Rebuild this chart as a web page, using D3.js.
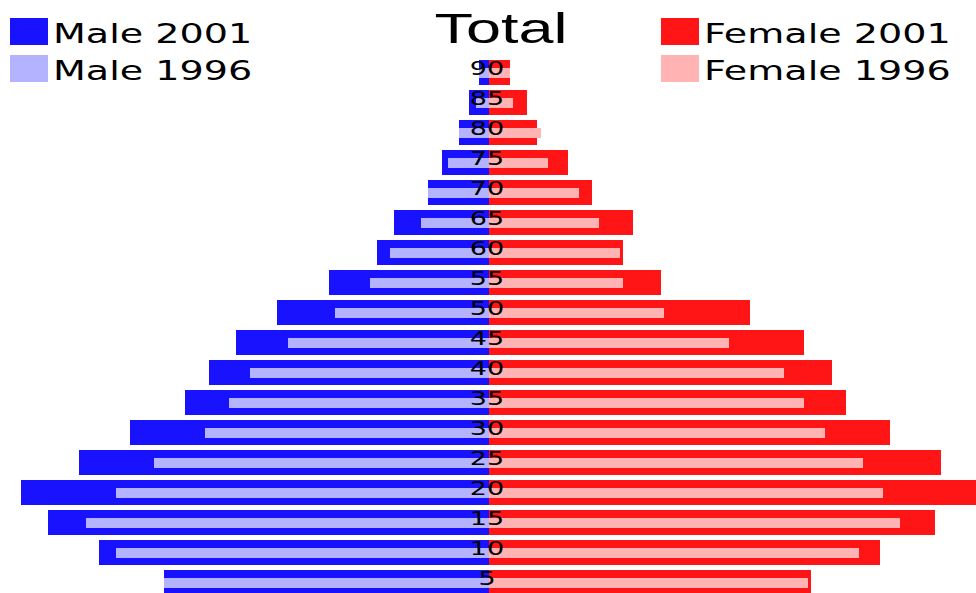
<!DOCTYPE html>
<html>
<head>
<meta charset="utf-8">
<script src="https://cdn.jsdelivr.net/npm/d3@7"></script>
<style>
  body { margin: 0; background: #fff; }
  svg { display: block; }
</style>
</head>
<body>
<svg></svg>
<script>
// Population pyramid, total, 2001 vs 1996

var ages = [5, 10, 15, 20, 25, 30, 35, 40, 45, 50, 55, 60, 65, 70, 75, 80, 85, 90];
var male2001 = [325, 390, 441, 468, 410, 359, 304, 280, 253, 212, 160, 112, 95, 61, 47, 30, 20, 10];
var male1996 = [325, 373, 403, 373, 335, 284, 260, 239, 201, 154, 119, 99, 68, 61, 41, 30, 13, 10];
var female2001 = [322, 391, 446, 487, 452, 401, 357, 343, 315, 261, 172, 134, 144, 103, 79, 48, 38, 21];
var female1996 = [319, 370, 411, 394, 374, 336, 315, 295, 240, 175, 134, 131, 110, 90, 59, 52, 24, 21];

var svgWidth = 976, svgHeight = 593, center = 489;
var stretch = 1.35;

var svg = d3.select('svg')
    .attr("width", svgWidth)
    .attr("height", svgHeight);

var xScale = d3.scaleLinear()
    .domain([0, 487])
    .range([0, 487]);

var yScale = d3.scaleBand()
    .domain(ages.slice().reverse())
    .range([60, 600])
    .padding(0);

var rows = ages.map(function (a, i) {
    return {age: a, m01: male2001[i], m96: male1996[i], f01: female2001[i], f96: female1996[i]};
});

// outer (2001) bars
svg.selectAll('rect.m01').data(rows).enter().append('rect')
    .attr('x', function (d) { return center - xScale(d.m01); })
    .attr('y', function (d) { return yScale(d.age); })
    .attr('width', function (d) { return xScale(d.m01); })
    .attr('height', 25)
    .attr('fill', '#1812ff');

svg.selectAll('rect.f01').data(rows).enter().append('rect')
    .attr('x', center)
    .attr('y', function (d) { return yScale(d.age); })
    .attr('width', function (d) { return xScale(d.f01); })
    .attr('height', 25)
    .attr('fill', '#ff1515');

// inner (1996) bars
svg.selectAll('rect.m96').data(rows).enter().append('rect')
    .attr('x', function (d) { return center - xScale(d.m96); })
    .attr('y', function (d) { return yScale(d.age) + 8; })
    .attr('width', function (d) { return xScale(d.m96); })
    .attr('height', 10)
    .attr('fill', '#b3b3ff');

svg.selectAll('rect.f96').data(rows).enter().append('rect')
    .attr('x', center)
    .attr('y', function (d) { return yScale(d.age) + 8; })
    .attr('width', function (d) { return xScale(d.f96); })
    .attr('height', 10)
    .attr('fill', '#ffb3b3');

// age labels
svg.selectAll('text.age').data(rows).enter().append('text')
    .attr("transform", function (d) {
        return "translate(" + (center - 2) + "," + (yScale(d.age) + 15) + ") scale(" + stretch + ",1)";
    })
    .attr("text-anchor", "middle")
    .attr("font-family", "DejaVu Sans")
    .attr("font-size", 20)
    .attr("fill", "#000")
    .text(function (d) { return d.age; });

// title
svg.append('text')
    .attr("transform", "translate(501,43) scale(1.5,1)")
    .attr("text-anchor", "middle")
    .attr("font-family", "Liberation Sans")
    .attr("font-size", 42)
    .text("Total");

// legend
var legend = [
    {label: "Male 2001", color: "#1812ff", x: 10, y: 18},
    {label: "Male 1996", color: "#b3b3ff", x: 10, y: 55},
    {label: "Female 2001", color: "#ff1515", x: 661, y: 18},
    {label: "Female 1996", color: "#ffb3b3", x: 661, y: 55}
];

svg.selectAll('rect.legend').data(legend).enter().append('rect')
    .attr('x', function (d) { return d.x; })
    .attr('y', function (d) { return d.y; })
    .attr('width', 38)
    .attr('height', 27)
    .attr('fill', function (d) { return d.color; });

svg.selectAll('text.legend').data(legend).enter().append('text')
    .attr("transform", function (d) {
        return "translate(" + (d.x + 43) + "," + (d.y + 25) + ") scale(1.41,1)";
    })
    .attr("font-family", "DejaVu Sans")
    .attr("font-size", 27)
    .attr("fill", "#000")
    .text(function (d) { return d.label; });
</script>
</body>
</html>
